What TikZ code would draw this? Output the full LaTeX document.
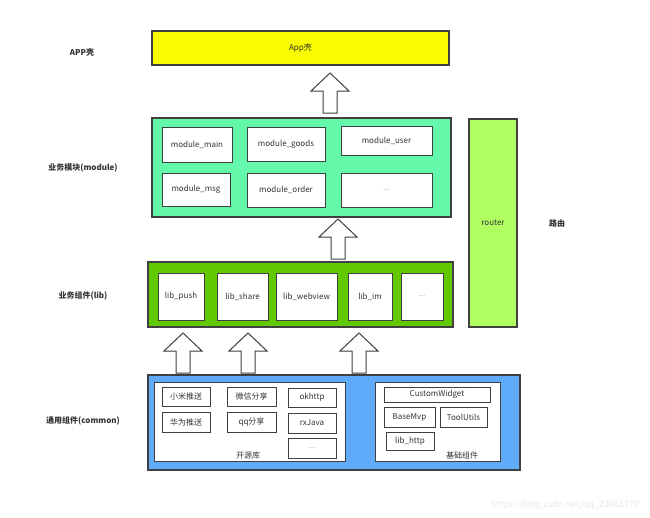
\documentclass[tikz,border=0pt]{standalone}
\usepackage{fontspec}
\setmainfont{Noto Sans CJK SC}
\usepackage{xcolor}
\usetikzlibrary{arrows, math}
\definecolor{appyellow}{RGB}{250, 250, 0}
\definecolor{modgreen}{RGB}{100, 248, 170}
\definecolor{libgreen}{RGB}{98, 200, 0}
\definecolor{routgreen}{RGB}{176, 255, 96}
\definecolor{combue}{RGB}{96, 170, 250}
\definecolor{edge}{RGB}{64, 64, 64}
\definecolor{txt}{RGB}{51, 51, 51}

% block arrow pointing up, tip at #1,#2
\newcommand{\blockup}[2]{
\draw[line width=1pt, color=edge, fill=white] (#1,#2) -- ++(19,18) -- ++(-12,0) -- ++(0,22) -- ++(-14,0) -- ++(0,-22) -- ++(-12,0) -- cycle;
}

\begin{document}
\begin{tikzpicture}[x=1pt, y=-1pt,
  every node/.style={font=\fontsize{8}{9}\selectfont, text=txt},
  layer/.style={draw=edge, line width=1.2pt, inner sep=0pt},
  item/.style={draw=edge, line width=0.9pt, fill=white, inner sep=0pt},
  side/.style={font=\fontsize{8}{9}\selectfont\bfseries}]
\tikzmath{
\hA=18;
}
\useasboundingbox (0,0) rectangle (650,517);

%layers
\node[layer, fill=appyellow, minimum width=297, minimum height=34] (app) at (300.5,48) {App壳};
\node[layer, fill=modgreen, minimum width=299, minimum height=99] (module) at (301.5,167.5) {};
\node[layer, fill=routgreen, minimum width=48, minimum height=208] (router) at (493,223) {router};
\node[layer, fill=libgreen, minimum width=305, minimum height=65] (lib) at (300.5,294.5) {};
\node[layer, fill=combue, minimum width=372, minimum height=95] (common) at (334,422.5) {};
\node[item, minimum width=191, minimum height=79] (open) at (249.5,421.5) {};
\node[item, minimum width=125, minimum height=79] (base) at (437.5,421.5) {};

%left labels
\node[side] (lapp) at (82,52) {APP壳};
\node[side] (lmod) at (83,168) {业务模块(module)};
\node[side] (llib) at (83,296) {业务组件(lib)};
\node[side] (lcom) at (83,421) {通用组件(common)};
\node[side] (lrout) at (557,223) {路由};

%module
\node[item, minimum width=70, minimum height=35] (mmain) at (197,144.5) {module\_main};
\node[item, minimum width=78, minimum height=34] (mgoods) at (286,144) {module\_goods};
\node[item, minimum width=91, minimum height=29] (muser) at (386.5,140.5) {module\_user};
\node[item, minimum width=68, minimum height=33] (mmsg) at (196,189.5) {module\_msg};
\node[item, minimum width=78, minimum height=34] (morder) at (286,190) {module\_order};
\node[item, minimum width=91, minimum height=34, text=gray!60] (mmore) at (386.5,190) {...};

%lib
\node[item, minimum width=46, minimum height=47] (lpush) at (181,296.5) {lib\_push};
\node[item, minimum width=51, minimum height=47] (lshare) at (242.5,296.5) {lib\_share};
\node[item, minimum width=61, minimum height=47] (lweb) at (306.5,296.5) {lib\_webview};
\node[item, minimum width=44, minimum height=47] (lim) at (370,296.5) {lib\_im};
\node[item, minimum width=42, minimum height=47, text=gray!60] (lmore) at (422,296.5) {...};

%common
\node[item, minimum width=48, minimum height=19] (xiaomi) at (186,396.5) {小米推送};
\node[item, minimum width=48, minimum height=20] (huawei) at (186,422) {华为推送};
\node[item, minimum width=49, minimum height=19] (wechat) at (251.5,396.5) {微信分享};
\node[item, minimum width=49, minimum height=20] (qq) at (251.5,422) {qq分享};
\node[item, minimum width=48, minimum height=19] (okhttp) at (312,397.5) {okhttp};
\node[item, minimum width=48, minimum height=20] (rxjava) at (312,423) {rxJava};
\node[item, minimum width=48, minimum height=20, text=gray!60] (omore) at (312,448) {...};
\node (lopen) at (248,455) {开源库};

\node[item, minimum width=106, minimum height=15] (custom) at (437,394.5) {CustomWidget};
\node[item, minimum width=51, minimum height=20] (basemvp) at (409.5,417) {BaseMvp};
\node[item, minimum width=47, minimum height=20] (tools) at (463.5,417) {ToolUtils};
\node[item, minimum width=48, minimum height=18] (http) at (410,441) {lib\_http};
\node (lbase) at (462,455) {基础组件};

%arrows
\blockup{330}{73}
\blockup{338}{219}
\blockup{183}{333}
\blockup{248}{333}
\blockup{359}{333}

\node[text=gray!18, font=\fontsize{9}{10}\selectfont] (mark) at (565,505) {https://blog.csdn.net/qq\_23081779};
\end{tikzpicture}
\end{document}
